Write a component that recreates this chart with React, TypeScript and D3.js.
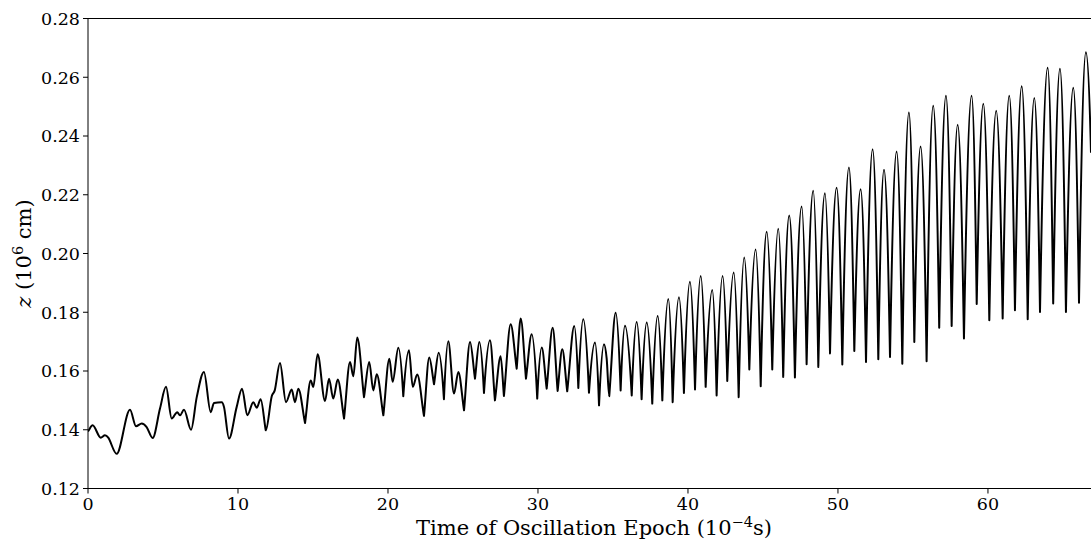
import React from "react";
import * as d3 from "d3";

// Time of oscillation epoch (1e-4 s) — extrema and shape points
const time = [
  0, 0.31, 0.85, 1.13, 1.35, 1.91, 2.8, 3.2, 3.58, 3.91,
  4.31, 4.8, 5.2, 5.58, 5.95, 6.13, 6.4, 6.87, 7.25, 7.73,
  8.18, 8.4, 8.91, 9.07, 9.4, 9.91, 10.27, 10.62, 11.02, 11.25,
  11.51, 11.85, 12.25, 12.45, 12.8, 13.2, 13.58, 13.8, 14.02, 14.47,
  14.85, 15.02, 15.31, 15.8, 16.07, 16.35, 16.65, 17.07, 17.47, 17.69,
  17.95, 18.4, 18.75, 19.02, 19.25, 19.69, 20.09, 20.31, 20.69, 21.02,
  21.4, 21.65, 21.95, 22.4, 22.75, 23.07, 23.38, 23.73, 24.02, 24.4,
  24.69, 25.07, 25.47, 25.8, 26.09, 26.4, 26.8, 27.13, 27.51, 27.73,
  28.18, 28.58, 28.85, 29.2, 29.58, 29.95, 30.25, 30.58, 30.98, 31.31,
  31.62, 31.95, 32.42, 32.69, 33.02, 33.4, 33.8, 34.07, 34.4, 34.58,
  34.75, 35.18, 35.51, 35.8, 36.25, 36.58, 36.91, 37.25, 37.62, 37.98,
  38.29, 38.69, 38.98, 39.4, 39.73, 40.13, 40.47, 40.85, 41.18, 41.62,
  41.91, 42.31, 42.62, 43.05, 43.38, 43.75, 44.09, 44.51, 44.85, 45.25,
  45.62, 46.02, 46.35, 46.75, 47.13, 47.58, 47.91, 48.35, 48.69, 49.13,
  49.47, 49.91, 50.29, 50.73, 51.09, 51.51, 51.87, 52.31, 52.69, 53.07,
  53.47, 53.91, 54.29, 54.73, 55.09, 55.51, 55.91, 56.35, 56.75, 57.2,
  57.58, 57.98, 58.4, 58.91, 59.25, 59.69, 60.09, 60.55, 60.98, 61.42,
  61.8, 62.25, 62.65, 63.09, 63.47, 63.98, 64.35, 64.8, 65.2, 65.69,
  66.07, 66.53, 66.87,
];

// z (1e6 cm)
const zValues = [
  0.1394, 0.1415, 0.1373, 0.1381, 0.1373, 0.1318, 0.1468, 0.1412, 0.1421, 0.1409,
  0.1372, 0.1472, 0.1546, 0.1438, 0.146, 0.1449, 0.1468, 0.14, 0.1511, 0.1597,
  0.146, 0.1491, 0.1494, 0.1477, 0.137, 0.1477, 0.154, 0.1449, 0.1494, 0.1475,
  0.1504, 0.1398, 0.1514, 0.1534, 0.1627, 0.1494, 0.1537, 0.1494, 0.154, 0.1423,
  0.1568, 0.1546, 0.1657, 0.1498, 0.1574, 0.1506, 0.1571, 0.1438, 0.1631, 0.1582,
  0.1714, 0.1511, 0.1631, 0.1534, 0.1589, 0.1449, 0.1642, 0.1563, 0.1679, 0.1514,
  0.1671, 0.1546, 0.1588, 0.1447, 0.1646, 0.1555, 0.1662, 0.1504, 0.1701, 0.1523,
  0.1597, 0.1466, 0.1699, 0.1574, 0.1699, 0.1525, 0.1705, 0.15, 0.165, 0.1515,
  0.1759, 0.1608, 0.1779, 0.1574, 0.1725, 0.1506, 0.168, 0.154, 0.1747, 0.1532,
  0.1674, 0.1531, 0.1753, 0.1542, 0.1776, 0.1526, 0.1697, 0.1483, 0.1691, 0.1642,
  0.1514, 0.1798, 0.1534, 0.1754, 0.1517, 0.1767, 0.1504, 0.1765, 0.1489, 0.1787,
  0.15, 0.1845, 0.1494, 0.1851, 0.1525, 0.1904, 0.1537, 0.1923, 0.1546, 0.1876,
  0.1517, 0.1923, 0.1566, 0.1935, 0.1511, 0.1986, 0.1605, 0.2014, 0.1548, 0.2074,
  0.1605, 0.2084, 0.158, 0.2129, 0.1578, 0.216, 0.1623, 0.2214, 0.1614, 0.2205,
  0.166, 0.2224, 0.1622, 0.2293, 0.1668, 0.2219, 0.1631, 0.2355, 0.164, 0.2285,
  0.1648, 0.2347, 0.1625, 0.248, 0.1699, 0.2364, 0.1633, 0.2503, 0.1747, 0.2537,
  0.1753, 0.2438, 0.1711, 0.2537, 0.1828, 0.251, 0.1773, 0.2486, 0.1779, 0.2537,
  0.1807, 0.2569, 0.1776, 0.2529, 0.1801, 0.2632, 0.183, 0.2629, 0.1801, 0.2564,
  0.1832, 0.2685, 0.2343,
];

const xTicks = [0, 10, 20, 30, 40, 50, 60];
const yTicks = [0.12, 0.14, 0.16, 0.18, 0.2, 0.22, 0.24, 0.26, 0.28];

const W = 1091;
const H = 540;
const FONT = "'DejaVu Serif', serif";

function buildPath(px: number[], py: number[], vals: number[]): string {
  const n = px.length;
  const s: number[] = [];
  for (let i = 0; i < n - 1; i++) s.push((py[i + 1] - py[i]) / (px[i + 1] - px[i]));
  const kind = vals.map((v, i) => {
    if (i === 0 || i === n - 1) return "end";
    if (v > vals[i - 1] && v > vals[i + 1]) return "max";
    if (v < vals[i - 1] && v < vals[i + 1]) return "min";
    return "mono";
  });
  const mL: number[] = new Array(n).fill(0);
  const mR: number[] = new Array(n).fill(0);
  for (let i = 0; i < n; i++) {
    const k = kind[i];
    if (k === "max") {
      mL[i] = 0;
      mR[i] = 0;
    } else if (k === "min") {
      const swingL = Math.abs(py[i] - py[i - 1]);
      const swingR = Math.abs(py[i + 1] - py[i]);
      const big = Math.min(swingL, swingR);
      // large swings form sharp cusps; small wiggles stay rounded
      const f = big > 45 ? 1.75 : big > 25 ? 0.9 : 0;
      mL[i] = (kind[i - 1] === "max" ? f : 0) * s[i - 1];
      mR[i] = (kind[i + 1] === "max" ? f : 0) * s[i];
    } else if (k === "mono") {
      let m = (s[i - 1] + s[i]) / 2;
      const lim = 2 * Math.min(Math.abs(s[i - 1]), Math.abs(s[i]));
      if (Math.abs(m) > lim) m = Math.sign(m) * lim;
      mL[i] = m;
      mR[i] = m;
    } else if (i === 0) {
      mL[i] = mR[i] = s[0];
    } else {
      const f = kind[i - 1] === "max" ? 2 : 1;
      mL[i] = mR[i] = f * s[i - 1];
    }
  }
  const p = d3.path();
  p.moveTo(px[0], py[0]);
  for (let i = 0; i < n - 1; i++) {
    const dx = px[i + 1] - px[i];
    p.bezierCurveTo(
      px[i] + dx / 3,
      py[i] + (mR[i] * dx) / 3,
      px[i + 1] - dx / 3,
      py[i + 1] - (mL[i + 1] * dx) / 3,
      px[i + 1],
      py[i + 1]
    );
  }
  return p.toString();
}

export default function App() {
  const left = 88;
  const right = 1091;
  const top = 18.5;
  const bottom = 488.5;

  const x = d3.scaleLinear().domain([0, 66.87]).range([left, right]);
  const y = d3.scaleLinear().domain([0.12, 0.28]).range([bottom, top]);

  const px = time.map((t) => x(t));
  const py = zValues.map((v) => y(v));
  const d = buildPath(px, py, zValues);

  return (
    <div style={{ position: "absolute", left: 0, top: 0, width: W, height: H, background: "#fff" }}>
      <svg width={W} height={H} style={{ display: "block" }} fontFamily={FONT}>
        <rect x={0} y={0} width={W} height={H} fill="#fff" />
        <defs>
          <clipPath id="plotclip">
            <rect x={left} y={top} width={right - left + 2} height={bottom - top} />
          </clipPath>
        </defs>
        <path d={d} fill="none" stroke="#000" strokeWidth={2} strokeLinejoin="round" clipPath="url(#plotclip)" />

        {/* spines */}
        <line x1={left} x2={left} y1={top} y2={bottom} stroke="#000" strokeWidth={1} />
        <line x1={left} x2={W} y1={top} y2={top} stroke="#000" strokeWidth={1} />
        <line x1={left} x2={W} y1={bottom} y2={bottom} stroke="#000" strokeWidth={1} />

        {/* y ticks */}
        {yTicks.map((t) => (
          <g key={"y" + t}>
            <line x1={left - 5} x2={left} y1={y(t)} y2={y(t)} stroke="#000" strokeWidth={1} />
            <text x={left - 8} y={y(t)} dy="0.36em" textAnchor="end" fontSize={17.5} fill="#000">
              {t.toFixed(2)}
            </text>
          </g>
        ))}

        {/* x ticks */}
        {xTicks.map((t) => (
          <g key={"x" + t}>
            <line x1={x(t)} x2={x(t)} y1={bottom} y2={bottom + 5} stroke="#000" strokeWidth={1} />
            <text x={x(t)} y={bottom + 21} textAnchor="middle" fontSize={17.5} fill="#000">
              {t}
            </text>
          </g>
        ))}

        {/* x label */}
        <text x={594} y={535} textAnchor="middle" fontSize={21} fill="#000">
          Time of Oscillation Epoch (10
          <tspan fontSize={14.5} dy={-8}>−4</tspan>
          <tspan dy={8}>s)</tspan>
        </text>

        {/* y label */}
        <text
          transform={`translate(31, ${(top + bottom) / 2}) rotate(-90)`}
          textAnchor="middle"
          fontSize={21}
          fill="#000"
        >
          <tspan fontStyle="italic">z</tspan> (10
          <tspan fontSize={14.5} dy={-8}>6</tspan>
          <tspan dy={8}> cm)</tspan>
        </text>
      </svg>
    </div>
  );
}
